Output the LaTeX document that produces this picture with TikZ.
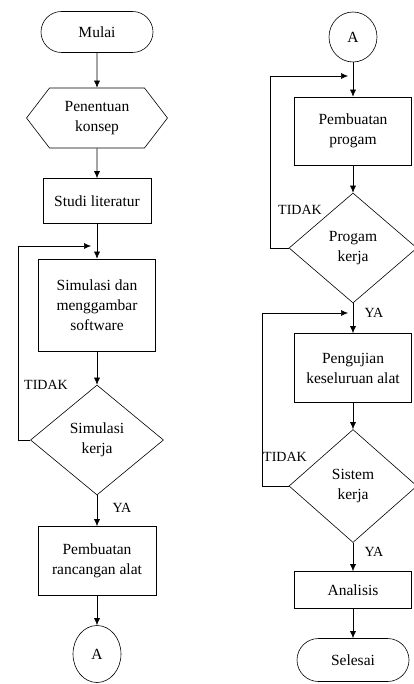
\documentclass[tikz,border=0pt]{standalone}
\usepackage{fontspec}
\setmainfont{Liberation Serif}
\usetikzlibrary{shapes.geometric,shapes.misc,shapes.symbols,arrows.meta}

\begin{document}
\begin{tikzpicture}
  [x=1pt,y=-1pt,line width=.6pt,
   every node/.style={draw,align=center,inner sep=2pt,font=\fontsize{15.5}{20}\selectfont},
   proses/.style={rectangle,minimum width=117pt},
   ujung/.style={rounded rectangle,minimum width=116pt,minimum height=41pt},
   siapkan/.style={signal,signal to=west and east,signal pointer angle=105,minimum width=141pt,minimum height=60pt},
   keputusan/.style={diamond,inner sep=0pt,minimum width=128pt,minimum height=110pt},
   konektor/.style={ellipse,inner sep=0pt,minimum width=48pt,minimum height=54pt},
   ket/.style={draw=none,inner sep=0pt,font=\fontsize{14}{16}\selectfont},
   panah/.style={-{Latex[length=7pt,width=6pt]}}]
  \useasboundingbox (0,0) rectangle (414,684);

  % kolom kiri
  \node[ujung] (mulai) at (97,32) {Mulai};
  \node[siapkan] (konsep) at (97,118) {Penentuan\\konsep};
  \node[proses,minimum width=108pt,minimum height=45pt] (studi) at (97,201) {Studi literatur};
  \node[proses,minimum height=92pt] (simulasi) at (97,305) {Simulasi dan\\menggambar\\software};
  \node[keputusan,minimum width=133pt] (simkerja) at (97,440) {Simulasi\\kerja};
  \node[proses,minimum width=118pt,minimum height=69pt] (rancang) at (97,561) {Pembuatan\\rancangan alat};
  \node[konektor,minimum height=57pt] (a1) at (97,654) {A};

  % kolom kanan
  \node[konektor,minimum height=50pt] (a2) at (353,37) {A};
  \node[proses,minimum height=68pt] (progam) at (353,131) {Pembuatan\\progam};
  \node[keputusan] (progkerja) at (353,248) {Progam\\kerja};
  \node[proses,minimum height=69pt] (uji) at (353,368) {Pengujian\\keseluruan alat};
  \node[keputusan,minimum height=113pt] (siskerja) at (353,486) {Sistem\\kerja};
  \node[proses,minimum height=37pt] (analisis) at (353,590) {Analisis};
  \node[ujung,minimum height=43pt] (selesai) at (353,660) {Selesai};

  \foreach \from/\to in {mulai/konsep,konsep/studi,studi/simulasi,simulasi/simkerja,
      simkerja/rancang,rancang/a1,a2/progam,progam/progkerja,progkerja/uji,
      uji/siskerja,siskerja/analisis,analisis/selesai}
    \draw[panah] (\from) -- (\to);

  % umpan balik
  \coordinate (kiri1) at (18,440);
  \coordinate (masuk1) at (91,246);
  \coordinate (kiri2) at (270,248);
  \coordinate (masuk2) at (348,76);
  \coordinate (kiri3) at (262,486);
  \coordinate (masuk3) at (348,313);
  \draw[panah] (simkerja.west) -- (kiri1) |- (masuk1);
  \draw[panah] (progkerja.west) -- (kiri2) |- (masuk2);
  \draw[panah] (siskerja.west) -- (kiri3) |- (masuk3);

  \node[ket] (tidak1) at (46,385) {TIDAK};
  \node[ket] (tidak2) at (300,210) {TIDAK};
  \node[ket] (tidak3) at (285,457) {TIDAK};
  \node[ket] (ya1) at (122,508) {YA};
  \node[ket] (ya2) at (374,313) {YA};
  \node[ket] (ya3) at (374,552) {YA};

\end{tikzpicture}
\end{document}
